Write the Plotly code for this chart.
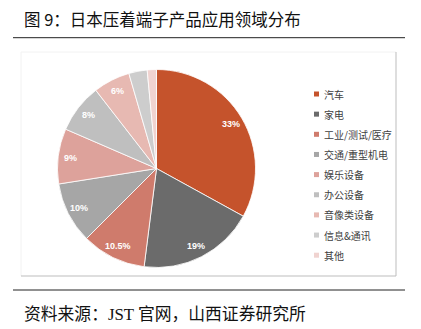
import math
import plotly.graph_objects as go

# Application share of Japanese crimp terminal products (%)
categories = ["汽车", "家电", "工业/测试/医疗", "交通/重型机电", "娱乐设备",
              "办公设备", "音像类设备", "信息&通讯", "其他"]
shares = [33, 19, 10.5, 10, 9, 8, 6, 3, 1.5]
colors = ["#C5532C", "#6B6B6B", "#CF7B6C", "#A6A6A6", "#DDA29B",
          "#BFBFBF", "#E7B9B2", "#CDCDCD", "#F0D3D0"]

W, H = 421, 329

def px(x):
    return x / W

def py(y):
    return 1 - y / H

# pie geometry (pixels)
cx, cy, r = 156.5, 168.5, 99.0

fig = go.Figure()
fig.add_trace(go.Pie(
    labels=categories,
    values=shares,
    textinfo="none",
    marker=dict(colors=colors, line=dict(color="white", width=0.8)),
    sort=False,
    direction="clockwise",
    rotation=0,
    showlegend=False,
    hoverinfo="label+percent",
    domain=dict(x=[px(cx - r), px(cx + r)], y=[py(cy + r), py(cy - r)]),
))

shapes = []
annotations = []

# percentage labels near the rim of each slice, at the slice's mid-angle
total = sum(shares)
cum = 0.0
for v in shares:
    mid = (cum + v / 2) / total * 2 * math.pi
    cum += v
    if v < 5:
        continue
    lx = cx + 0.875 * r * math.sin(mid)
    ly = cy - 0.875 * r * math.cos(mid)
    annotations.append(dict(text=f"{v:g}%", xref="paper", yref="paper", x=px(lx), y=py(ly),
                            xanchor="center", yanchor="middle", showarrow=False,
                            font=dict(family="Liberation Sans", size=9, color="white",
                                      weight="bold")))

# chart frame: faint top/left edges, grey right/bottom edges
shapes += [
    dict(type="line", xref="paper", yref="paper", x0=px(21), x1=px(396), y0=py(52), y1=py(52),
         line=dict(color="#F2F2F2", width=1)),
    dict(type="line", xref="paper", yref="paper", x0=px(21), x1=px(21), y0=py(52), y1=py(276),
         line=dict(color="#F2F2F2", width=1)),
    dict(type="line", xref="paper", yref="paper", x0=px(396), x1=px(396), y0=py(52), y1=py(276),
         line=dict(color="#BDBDBD", width=1)),
    dict(type="line", xref="paper", yref="paper", x0=px(21), x1=px(396), y0=py(276), y1=py(276),
         line=dict(color="#BDBDBD", width=1)),
]

# title and source rules
for yy in (37.7, 290):
    shapes.append(dict(type="line", xref="paper", yref="paper", x0=px(13), x1=px(405),
                       y0=py(yy), y1=py(yy), line=dict(color="#222222", width=1)))

# legend: small colour squares with labels
row0, step = 94, 20.15
for i, (name, c) in enumerate(zip(categories, colors)):
    yc = row0 + i * step
    shapes.append(dict(type="rect", xref="paper", yref="paper",
                       x0=px(314), x1=px(319), y0=py(yc + 2.5), y1=py(yc - 2.5),
                       fillcolor=c, line=dict(width=0)))
    annotations.append(dict(text=name, xref="paper", yref="paper", x=px(321.5), y=py(yc),
                            xanchor="left", yanchor="middle", showarrow=False,
                            font=dict(family="Noto Sans CJK SC", size=10, color="#404040")))

annotations.append(dict(text="图 9：日本压着端子产品应用领域分布", xref="paper", yref="paper",
                        x=px(22), y=py(19.5), xanchor="left", yanchor="middle", showarrow=False,
                        font=dict(family="Noto Sans CJK SC", size=16.5, color="#111111")))
annotations.append(dict(text="资料来源：<span style='font-family:Liberation Serif'>JST </span>官网，山西证券研究所",
                        xref="paper", yref="paper",
                        x=px(22), y=py(312.5), xanchor="left", yanchor="middle", showarrow=False,
                        font=dict(family="Noto Sans CJK SC", size=16.8, color="#111111")))

fig.update_layout(
    width=W, height=H,
    margin=dict(l=0, r=0, t=0, b=0),
    paper_bgcolor="white",
    plot_bgcolor="white",
    shapes=shapes,
    annotations=annotations,
)

fig.write_html("out.html")
